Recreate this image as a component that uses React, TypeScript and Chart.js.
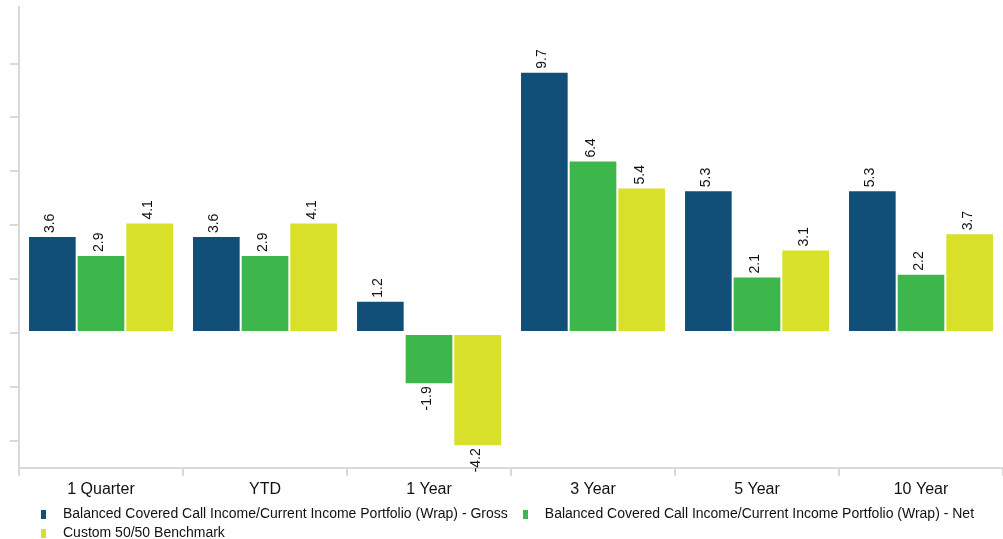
import React, { useEffect, useRef } from "react";
import { Chart, registerables } from "chart.js";

Chart.register(...registerables);

const categories = ["1 Quarter", "YTD", "1 Year", "3 Year", "5 Year", "10 Year"];
const seriesNames = [
  "Balanced Covered Call Income/Current Income Portfolio (Wrap) - Gross",
  "Balanced Covered Call Income/Current Income Portfolio (Wrap) - Net",
  "Custom 50/50 Benchmark",
];
const grossValues = [3.6, 3.6, 1.2, 9.7, 5.3, 5.3];
const netValues = [2.9, 2.9, -1.9, 6.4, 2.1, 2.2];
const benchmarkValues = [4.1, 4.1, -4.2, 5.4, 3.1, 3.7];
const yTickValues = [-4, -2, 0, 2, 4, 6, 8, 10];
const seriesColors = ["#114F78", "#3DB64B", "#D8E029"];

const FONT = "'Liberation Sans', Arial, sans-serif";
const TEXT = "#111111";
const AXIS = "#D9D9D9";

function makeSwatch(color: string) {
  const c = document.createElement("canvas");
  c.width = 5;
  c.height = 9;
  const g = c.getContext("2d")!;
  g.fillStyle = color;
  g.fillRect(0, 0, 5, 9);
  return c;
}

const valueLabelPlugin = {
  id: "valueLabels",
  afterDatasetsDraw(chart: any) {
    const ctx = chart.ctx;
    ctx.save();
    ctx.font = `14px ${FONT}`;
    ctx.fillStyle = TEXT;
    ctx.textBaseline = "middle";
    chart.data.datasets.forEach((ds: any, di: number) => {
      const meta = chart.getDatasetMeta(di);
      meta.data.forEach((bar: any, i: number) => {
        const v = ds.data[i] as number;
        const { x, y } = bar.getProps(["x", "y"], true);
        ctx.save();
        ctx.translate(x - 2, v >= 0 ? y - 3 : y + 2);
        ctx.rotate(-Math.PI / 2);
        ctx.textAlign = v >= 0 ? "left" : "right";
        ctx.fillText(v.toFixed(1), 0, 0);
        ctx.restore();
      });
    });
    ctx.restore();
  },
};

const legendShiftPlugin = {
  id: "legendShift",
  afterLayout(chart: any) {
    if (chart.legend) {
      chart.legend.left = 26;
    }
  },
};

export default function App() {
  const ref = useRef<HTMLCanvasElement | null>(null);

  useEffect(() => {
    if (!ref.current) return;
    const values = [grossValues, netValues, benchmarkValues];
    const chart = new Chart(ref.current, {
      type: "bar",
      data: {
        labels: categories,
        datasets: seriesNames.map((name, i) => ({
          label: name,
          data: values[i],
          backgroundColor: seriesColors[i],
          borderColor: "#FFFFFF",
          borderWidth: 1,
          borderSkipped: false,
          barPercentage: 1,
          categoryPercentage: 0.89,
        })),
      },
      options: {
        responsive: false,
        animation: false,
        layout: { padding: { left: 10, top: 7, right: 0, bottom: 0 } },
        scales: {
          x: {
            grid: {
              display: true,
              drawOnChartArea: false,
              drawTicks: true,
              tickLength: 8,
              color: AXIS,
              lineWidth: 2,
              offset: true,
            },
            border: { display: true, color: AXIS, width: 2 },
            ticks: {
              color: TEXT,
              font: { family: FONT, size: 16 },
              padding: 4,
              maxRotation: 0,
            },
            afterFit: (scale: any) => {
              scale.height -= 1;
            },
          },
          y: {
            min: -5,
            max: 12.1,
            grid: {
              display: true,
              drawOnChartArea: false,
              drawTicks: true,
              tickLength: 9,
              color: AXIS,
              lineWidth: 2,
            },
            border: { display: true, color: AXIS, width: 2 },
            ticks: { display: false },
            afterBuildTicks: (scale: any) => {
              scale.ticks = yTickValues.map((v) => ({ value: v }));
            },
          },
        },
        plugins: {
          tooltip: { enabled: false },
          legend: {
            position: "bottom",
            align: "start",
            labels: {
              usePointStyle: true,
              pointStyleWidth: 25,
              padding: 5,
              color: TEXT,
              font: { family: FONT, size: 14 },
              generateLabels: (c: any) =>
                c.data.datasets.map((ds: any, i: number) => ({
                  text: ds.label,
                  fillStyle: seriesColors[i],
                  strokeStyle: seriesColors[i],
                  lineWidth: 0,
                  pointStyle: makeSwatch(seriesColors[i]),
                  datasetIndex: i,
                  hidden: false,
                  fontColor: TEXT,
                })),
            },
          },
        },
      },
      plugins: [valueLabelPlugin, legendShiftPlugin],
    } as any);
    return () => chart.destroy();
  }, []);

  return (
    <div
      style={{
        position: "fixed",
        left: 0,
        top: 0,
        width: 1003,
        height: 539,
        overflow: "hidden",
        background: "#FFFFFF",
      }}
    >
      <canvas ref={ref} width={1003} height={550} style={{ width: 1003, height: 550, display: "block" }} />
    </div>
  );
}
